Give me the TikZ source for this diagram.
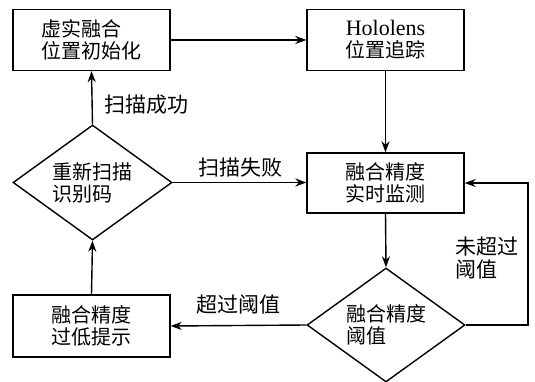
\documentclass[tikz,border=0pt]{standalone}
\usepackage{fontspec}
\newfontfamily\cjk{Noto Sans CJK SC}
\newfontfamily\lat{Liberation Serif}
\usetikzlibrary{shapes.geometric,arrows.meta}
\begin{document}
\begin{tikzpicture}[x=1pt,y=-1pt,
  every node/.style={font=\cjk\fontsize{20}{22}\selectfont, inner sep=0pt},
  box/.style={draw, line width=1.4pt, minimum width=157pt, minimum height=61pt, align=left},
  dia/.style={draw, diamond, line width=1.4pt, aspect=1.38, minimum width=159pt, minimum height=115pt, align=left},
  lab/.style={font=\cjk\fontsize{21}{23}\selectfont, align=left},
  arr/.style={line width=1.4pt, -{Stealth[length=11pt,width=8pt]}},
  ln/.style={line width=1.4pt}]
\useasboundingbox (0,0) rectangle (535,382);
\node[box] (A) at (91.5,40) {虚实融合\\位置初始化};
\node[box, align=center] (B) at (385.5,40) {{\lat\fontsize{22}{22}\selectfont Hololens}\\位置追踪};
\node[box, minimum height=60pt] (C) at (385.5,183) {融合精度\\实时监测};
\node[box, minimum height=62pt] (E) at (91.5,326) {融合精度\\过低提示};
\node[dia] (D1) at (92.5,182.5) {重新扫描\\识别码\phantom{描}};
\node[dia, minimum height=114pt, minimum width=158pt] (D2) at (386,325) {融合精度\\阈值\phantom{精度}};
\coordinate (R) at (528,325);
\draw[arr] (A.east) -- (B.west);
\draw[arr] (B.south) -- (C.north);
\draw[arr] (C.south) -- (D2.north);
\draw[arr] (D1.east) -- (D1.east -| C.west);
\draw[arr] (D2.east) -- (R) |- (C.east);
\draw[arr] (D2.west) -- (E.east);
\draw[arr] (E.north) -- (D1.south);
\draw[arr] (D1.north) -- (A.south);
\node[lab] (L1) at (146,105) {扫描成功};
\node[lab] (L2) at (240,168) {扫描失败};
\node[lab] (L3) at (238,305) {超过阈值};
\node[lab] (L4) at (487,258) {未超过\\阈值\phantom{过}};
\end{tikzpicture}
\end{document}
